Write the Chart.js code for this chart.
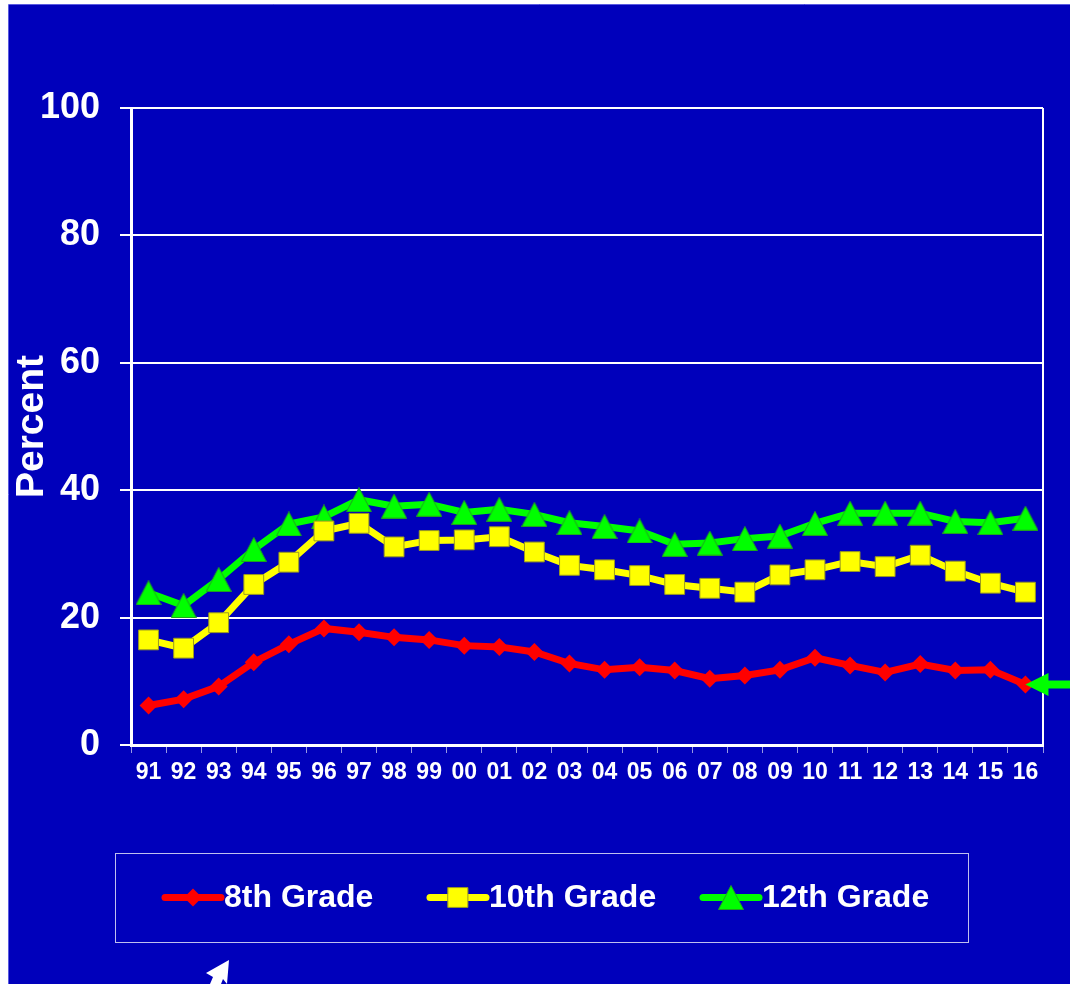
<!DOCTYPE html>
<html lang="en">
  <head>
    <meta charset="UTF-8" />
    <title>Percent by grade, 1991-2016</title>
    <script src="https://cdn.jsdelivr.net/npm/chart.js@4.4.1/dist/chart.umd.min.js"></script>
    <style>
      html,
      body {
        margin: 0;
        padding: 0;
        background: #ffffff;
      }
    </style>
  </head>
  <body>
    <canvas id="chart" width="1070" height="984"></canvas>
    <script>
      const years = ["91", "92", "93", "94", "95", "96", "97", "98", "99", "00", "01", "02", "03",
        "04", "05", "06", "07", "08", "09", "10", "11", "12", "13", "14", "15", "16"];
      const grade8 = [6.2, 7.2, 9.2, 13.0, 15.8, 18.3, 17.7, 16.9, 16.5, 15.6, 15.4, 14.6, 12.8,
        11.8, 12.2, 11.7, 10.4, 10.9, 11.8, 13.7, 12.5, 11.4, 12.7, 11.7, 11.8, 9.5];
      const grade10 = [16.5, 15.2, 19.2, 25.2, 28.7, 33.6, 34.8, 31.1, 32.1, 32.2, 32.7, 30.3, 28.2,
        27.5, 26.6, 25.2, 24.6, 24.0, 26.7, 27.5, 28.8, 28.0, 29.8, 27.3, 25.4, 24.0];
      const grade12 = [23.9, 21.9, 26.0, 30.7, 34.7, 35.8, 38.5, 37.5, 37.8, 36.5, 37.0, 36.2, 34.9,
        34.3, 33.6, 31.5, 31.7, 32.4, 32.8, 34.8, 36.4, 36.4, 36.4, 35.1, 34.9, 35.6];
      const seriesNames = ["8th Grade", "10th Grade", "12th Grade"];

      const BLUE = "#0000BB";
      const FONT = "'Liberation Sans', Arial, Helvetica, sans-serif";
      Chart.defaults.font.family = FONT;
      Chart.defaults.color = "#ffffff";

      // triangle marker centred on its bounding box (like the office chart markers)
      const tri = document.createElement("canvas");
      tri.width = 26;
      tri.height = 25;
      {
        const c = tri.getContext("2d");
        c.fillStyle = "#00FF00";
        c.strokeStyle = "#20a020";
        c.lineWidth = 1;
        c.beginPath();
        c.moveTo(13, 0.5);
        c.lineTo(25.5, 24.5);
        c.lineTo(0.5, 24.5);
        c.closePath();
        c.fill();
        c.stroke();
      }

      // blue panel with the thin white margin top/left
      const backdrop = {
        id: "backdrop",
        beforeDraw(chart) {
          const ctx = chart.ctx;
          ctx.save();
          ctx.fillStyle = "#ffffff";
          ctx.fillRect(0, 0, chart.width, chart.height);
          ctx.fillStyle = BLUE;
          ctx.fillRect(9, 4, chart.width - 9, chart.height - 4);
          ctx.strokeStyle = "#5a5ae0";
          ctx.lineWidth = 1;
          ctx.beginPath();
          ctx.moveTo(8.5, chart.height);
          ctx.lineTo(8.5, 4.5);
          ctx.lineTo(chart.width, 4.5);
          ctx.stroke();
          ctx.restore();
        },
        beforeDatasetsDraw(chart) {
          // right side of the plot frame
          const { ctx, chartArea } = chart;
          ctx.save();
          ctx.strokeStyle = "#ffffff";
          ctx.lineWidth = 2;
          ctx.beginPath();
          ctx.moveTo(chartArea.right, chartArea.top);
          ctx.lineTo(chartArea.right, chartArea.bottom);
          ctx.stroke();
          ctx.restore();
        },
      };

      // green arrow pointing at the last 8th grade point, white cursor near the legend
      const arrows = {
        id: "arrows",
        afterDatasetsDraw(chart) {
          const ctx = chart.ctx;
          const pts = chart.getDatasetMeta(0).data;
          const p = pts[pts.length - 1];
          ctx.save();
          ctx.fillStyle = "#00FF00";
          ctx.beginPath();
          ctx.moveTo(p.x, p.y);
          ctx.lineTo(p.x + 23, p.y - 11.5);
          ctx.lineTo(p.x + 23, p.y - 4);
          ctx.lineTo(chart.width, p.y - 4);
          ctx.lineTo(chart.width, p.y + 4);
          ctx.lineTo(p.x + 23, p.y + 4);
          ctx.lineTo(p.x + 23, p.y + 11.5);
          ctx.closePath();
          ctx.fill();
          ctx.restore();
        },
        afterDraw(chart) {
          const ctx = chart.ctx;
          ctx.save();
          ctx.fillStyle = "#ffffff";
          ctx.beginPath();
          ctx.moveTo(229, 960);
          ctx.lineTo(206, 973);
          ctx.lineTo(213, 977);
          ctx.lineTo(210, 984);
          ctx.lineTo(221, 984);
          ctx.lineTo(223, 979);
          ctx.lineTo(227, 984);
          ctx.closePath();
          ctx.fill();
          ctx.restore();
        },
      };

      // boxed legend: line + marker + label
      const boxLegend = {
        id: "boxLegend",
        afterDraw(chart, args, opts) {
          const ctx = chart.ctx;
          ctx.save();
          ctx.strokeStyle = "rgba(255,255,255,0.75)";
          ctx.lineWidth = 1;
          ctx.strokeRect(opts.box[0] + 0.5, opts.box[1] + 0.5, opts.box[2], opts.box[3]);
          const cy = opts.box[1] + opts.box[3] / 2;
          chart.data.datasets.forEach((ds, i) => {
            const x0 = opts.starts[i];
            const x1 = x0 + opts.lineLen;
            ctx.strokeStyle = ds.borderColor;
            ctx.lineWidth = 7;
            ctx.lineCap = "round";
            ctx.beginPath();
            ctx.moveTo(x0, cy);
            ctx.lineTo(x1, cy);
            ctx.stroke();
            ctx.fillStyle = ds.pointBackgroundColor;
            ctx.strokeStyle = ds.pointBorderColor;
            ctx.lineWidth = ds.pointBorderWidth;
            Chart.helpers.drawPoint(ctx, {
              pointStyle: ds.pointStyle,
              radius: ds.pointRadius,
              rotation: 0,
              borderWidth: ds.pointBorderWidth,
            }, (x0 + x1) / 2, cy);
            ctx.fillStyle = "#ffffff";
            ctx.font = "bold 32px " + FONT;
            ctx.textAlign = "left";
            ctx.textBaseline = "middle";
            ctx.fillText(ds.label, x1 + 3, cy + 1);
          });
          ctx.restore();
        },
      };

      new Chart(document.getElementById("chart"), {
        type: "line",
        data: {
          labels: years,
          datasets: [
            {
              label: seriesNames[0],
              data: grade8,
              borderColor: "#FF0000",
              pointBackgroundColor: "#FF0000",
              pointBorderColor: "#FF0000",
              pointBorderWidth: 0,
              pointStyle: "rectRot",
              pointRadius: 9,
            },
            {
              label: seriesNames[1],
              data: grade10,
              borderColor: "#FFFF00",
              pointBackgroundColor: "#FFFF00",
              pointBorderColor: "#9a9a20",
              pointBorderWidth: 1,
              pointStyle: "rect",
              pointRadius: 14,
            },
            {
              label: seriesNames[2],
              data: grade12,
              borderColor: "#00FF00",
              pointBackgroundColor: "#00FF00",
              pointBorderColor: "#20a020",
              pointBorderWidth: 0,
              pointStyle: tri,
              pointRadius: 15,
            },
          ],
        },
        options: {
          responsive: false,
          animation: false,
          elements: {
            line: { borderWidth: 7, tension: 0 },
          },
          layout: { padding: { left: 9, top: 108, right: 27, bottom: 0 } },
          plugins: {
            legend: { display: false },
            tooltip: { enabled: false },
            boxLegend: { box: [115, 853, 853, 89], starts: [165, 430, 703], lineLen: 56 },
          },
          scales: {
            x: {
              offset: true,
              afterFit(scale) {
                scale.height = 239;
              },
              grid: {
                display: true,
                drawOnChartArea: false,
                offset: true,
                tickLength: 8,
                color: "rgba(255,255,255,0.6)",
                lineWidth: 1,
              },
              border: { color: "#ffffff", width: 3 },
              ticks: {
                color: "#ffffff",
                padding: 6,
                autoSkip: false,
                maxRotation: 0,
                font: { size: 23, weight: "bold" },
              },
            },
            y: {
              min: 0,
              max: 100,
              afterFit(scale) {
                scale.width = 122;
              },
              grid: { color: "#ffffff", lineWidth: 2, tickLength: 11 },
              border: { color: "#ffffff", width: 3 },
              ticks: {
                stepSize: 20,
                color: "#ffffff",
                padding: 20,
                font: { size: 36, weight: "bold" },
              },
              title: {
                display: true,
                text: "Percent",
                color: "#ffffff",
                padding: 0,
                font: { size: 39, weight: "bold", lineHeight: 1.2 },
              },
            },
          },
        },
        plugins: [backdrop, arrows, boxLegend],
      });
    </script>
  </body>
</html>
